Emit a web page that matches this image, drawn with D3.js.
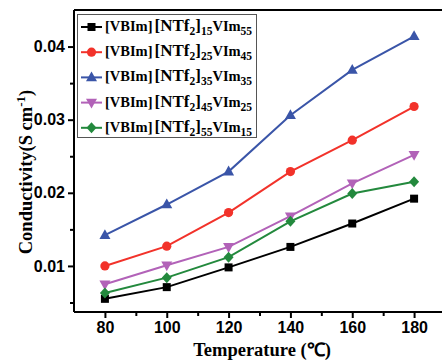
<!DOCTYPE html>
<html><head><meta charset="utf-8">
<script src="https://cdn.jsdelivr.net/npm/d3@7"></script>
<style>body{margin:0;background:#fff;}svg{display:block;}</style>
</head><body>
<svg id="c" width="442" height="360"></svg>
<script>
const temps = [80, 100, 120, 140, 160, 180];
const s15 = [0.0055, 0.0071, 0.0098, 0.0126, 0.0158, 0.0192];
const s25 = [0.0100, 0.0127, 0.0173, 0.0229, 0.0272, 0.0318];
const s35 = [0.0142, 0.0184, 0.0229, 0.0306, 0.0368, 0.0414];
const s45 = [0.0075, 0.0101, 0.0126, 0.0168, 0.0213, 0.0252];
const s55 = [0.0063, 0.0084, 0.0112, 0.0161, 0.0199, 0.0215];
const seriesNames = [["15","55"],["25","45"],["35","35"],["45","25"],["55","15"]];
const xTicks = [80, 100, 120, 140, 160, 180];
const yTicks = [0.01, 0.02, 0.03, 0.04];

const series = [
  {v:s15, color:"#000000", sym:"square", n:seriesNames[0]},
  {v:s25, color:"#f2322a", sym:"circle", n:seriesNames[1]},
  {v:s35, color:"#3a55a8", sym:"up", n:seriesNames[2]},
  {v:s45, color:"#b262b8", sym:"down", n:seriesNames[3]},
  {v:s55, color:"#23893d", sym:"diamond", n:seriesNames[4]}
];

const svg = d3.select("#c");
const L = 74, R = 445, T = 10, B = 312;
const x = d3.scaleLinear().domain([70, 190]).range([L, R]);
const y = d3.scaleLinear().domain([0.0037, 0.045]).range([B, T]);

function sym(g, type, color){
  let p;
  if(type==="square") p = g.append("rect").attr("x",-4).attr("y",-4).attr("width",8).attr("height",8);
  else if(type==="circle") p = g.append("circle").attr("r",4.6);
  else if(type==="up") p = g.append("path").attr("d","M0,-6L5.5,3.8L-5.5,3.8Z");
  else if(type==="down") p = g.append("path").attr("d","M0,6L5.5,-3.8L-5.5,-3.8Z");
  else p = g.append("path").attr("d","M0,-5.5L5,0L0,5.5L-5,0Z");
  p.attr("fill", color);
}

// frame: top line
svg.append("line").attr("x1",L).attr("x2",442).attr("y1",T).attr("y2",T)
  .attr("stroke","#000").attr("stroke-width",2);

// axes
const xAxis = d3.axisBottom(x).tickValues(xTicks).tickSize(6).tickPadding(4).tickFormat(d3.format("d"));
const gx = svg.append("g").attr("transform",`translate(0,${B})`).call(xAxis);
const xMinor = d3.axisBottom(x).tickValues([90,110,130,150,170]).tickSize(4).tickFormat("");
svg.append("g").attr("transform",`translate(0,${B})`).call(xMinor).select(".domain").remove();
const yAxis = d3.axisLeft(y).tickValues(yTicks).tickSize(6).tickPadding(3).tickFormat(d3.format(".2f"));
const gy = svg.append("g").attr("transform",`translate(${L},0)`).call(yAxis);
const yMinor = d3.axisLeft(y).tickValues([0.005,0.015,0.025,0.035]).tickSize(4).tickFormat("");
svg.append("g").attr("transform",`translate(${L},0)`).call(yMinor).select(".domain").remove();

svg.selectAll(".domain").attr("stroke-width",2);
svg.selectAll(".tick line").attr("stroke-width",2);
[gx, gy].forEach(g => g.selectAll("text")
  .attr("font-family","'Liberation Sans', Arial, sans-serif")
  .attr("font-weight","bold").attr("font-size",16).attr("fill","#000"));
gx.select(".domain").attr("d", `M${L},0H442`);
gy.select(".domain").attr("d", `M0,${T}V${B}`);

// lines
const line = d3.line().x((d,i)=>x(temps[i])).y(d=>y(d));
series.forEach(s=>{
  svg.append("path").datum(s.v).attr("d",line).attr("fill","none")
    .attr("stroke",s.color).attr("stroke-width",2);
  s.v.forEach((v,i)=>{
    const g = svg.append("g").attr("transform",`translate(${x(temps[i])},${y(v)})`);
    sym(g, s.sym, s.color);
  });
});

// legend
const lg = svg.append("g");
lg.append("rect").attr("x",77.5).attr("y",14.5).attr("width",179).attr("height",123)
  .attr("fill","#fff").attr("stroke","#555").attr("stroke-width",1);
series.forEach((s,i)=>{
  const cy = 27 + i*25.2;
  lg.append("line").attr("x1",81).attr("x2",102).attr("y1",cy).attr("y2",cy)
    .attr("stroke",s.color).attr("stroke-width",2);
  sym(lg.append("g").attr("transform",`translate(91.5,${cy})`), s.sym, s.color);
  const t = lg.append("text").attr("x",105).attr("y",cy+4)
    .attr("font-family","'Liberation Serif', 'Times New Roman', serif")
    .attr("font-weight","bold").attr("font-size",14.5).attr("fill","#000");
  t.append("tspan").text("[VBIm]");
  t.append("tspan").attr("font-size",17).attr("dx",2).text("[NTf");
  t.append("tspan").attr("font-size",11.5).attr("dy",4).text("2");
  t.append("tspan").attr("font-size",17).attr("dy",-4).text("]");
  t.append("tspan").attr("font-size",11.5).attr("dy",4).text(s.n[0]);
  t.append("tspan").attr("dy",-4).text("VIm");
  t.append("tspan").attr("font-size",11.5).attr("dy",4).text(s.n[1]);
});

// axis titles
const yt = svg.append("text").attr("transform","translate(32,172) rotate(-90)")
  .attr("text-anchor","middle")
  .attr("font-family","'Liberation Serif', 'Times New Roman', serif")
  .attr("font-weight","bold").attr("font-size",18.5).attr("fill","#000");
yt.append("tspan").text("Conductivity(S cm");
yt.append("tspan").attr("font-size",13).attr("dy",-7).text("-1");
yt.append("tspan").attr("dy",7).text(")");

svg.append("text").attr("x",262).attr("y",356).attr("text-anchor","middle")
  .attr("font-family","'Liberation Serif', 'Times New Roman', serif")
  .attr("font-weight","bold").attr("font-size",18.5).attr("fill","#000")
  .text("Temperature (℃)");
</script>
</body></html>
